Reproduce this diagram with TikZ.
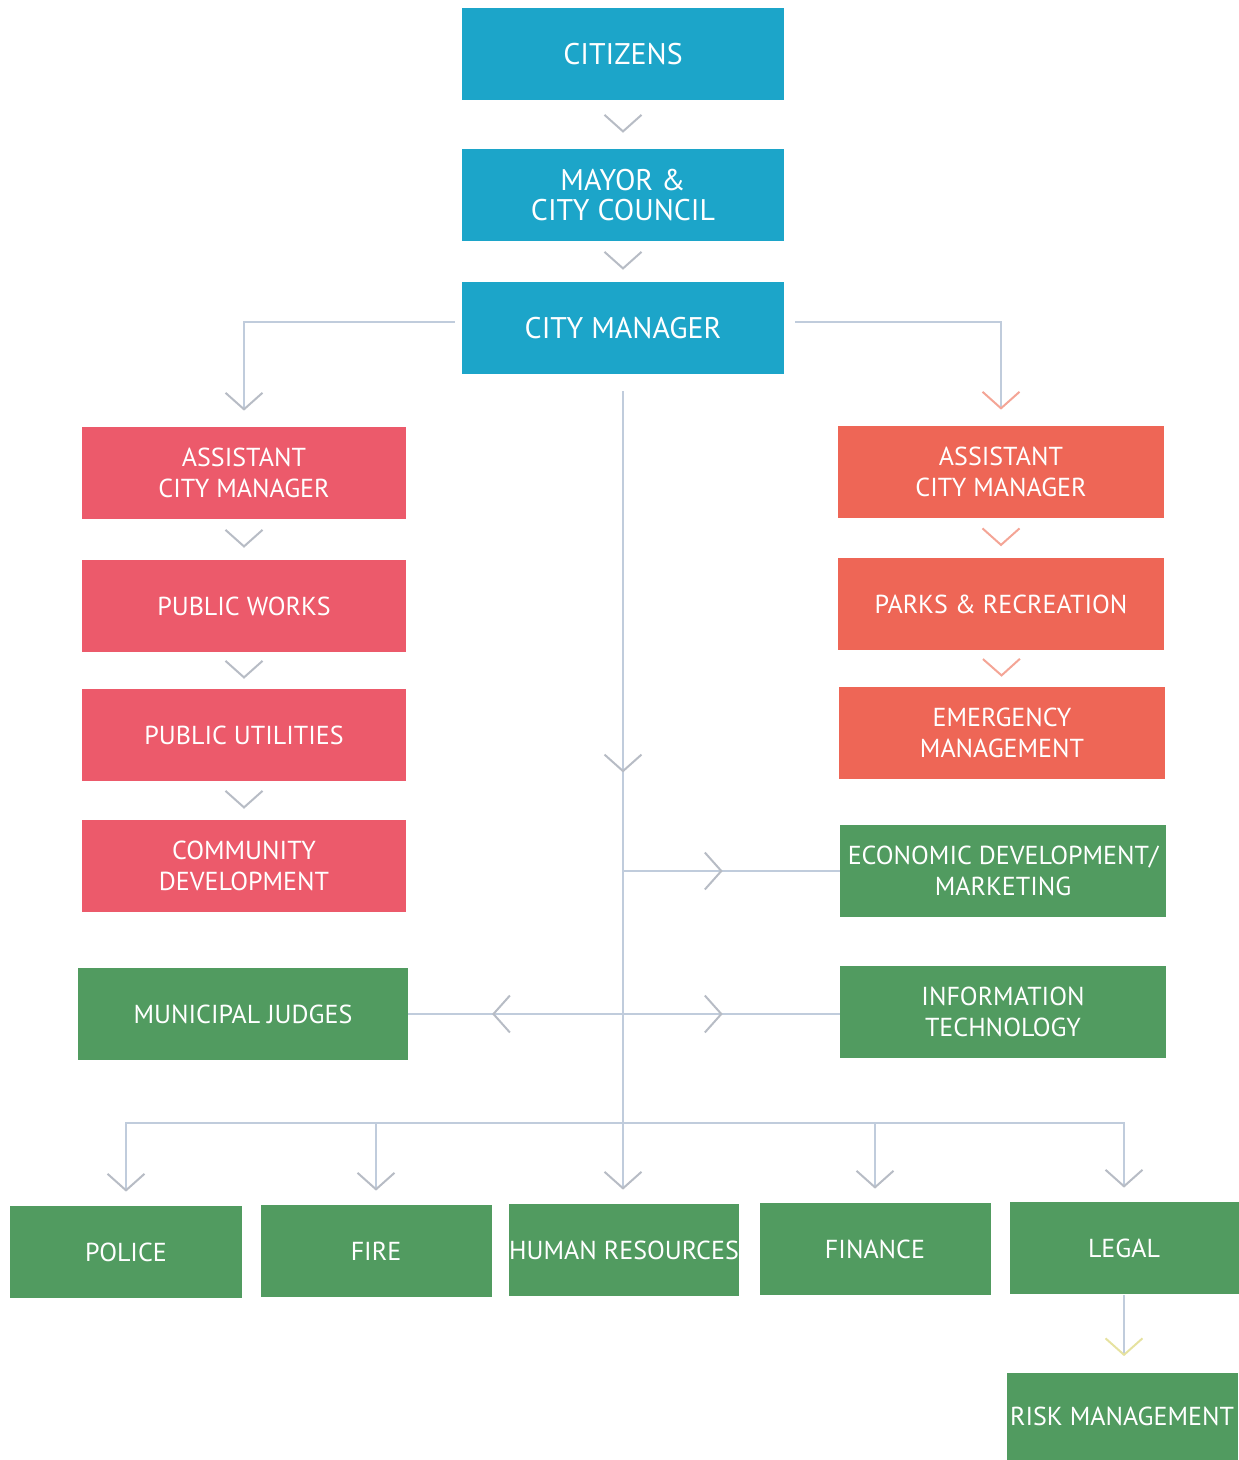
\documentclass[tikz,border=0pt]{standalone}
\usepackage{fontspec}
\setmainfont{PT Sans}
\usetikzlibrary{arrows.meta,decorations.markings}
\definecolor{cityblue}{HTML}{1CA5C9}
\definecolor{deptred}{HTML}{EC5A6B}
\definecolor{deptcoral}{HTML}{EE6656}
\definecolor{deptgreen}{HTML}{519B60}
\definecolor{linkgray}{HTML}{C0CCDC}
\definecolor{chevgray}{HTML}{B7BCC5}
\definecolor{chevpink}{HTML}{F4A596}
\definecolor{chevyellow}{HTML}{E6E2A0}
\begin{document}
\begin{tikzpicture}[x=0.2mm, y=-0.2mm,
  gchev/.tip={Straight Barb[length=3.3mm, width=7.4mm, line width=0.4mm 0, color=chevgray]},
  pchev/.tip={Straight Barb[length=3.3mm, width=7.4mm, line width=0.4mm 0, color=chevpink]},
  ychev/.tip={Straight Barb[length=3.3mm, width=7.4mm, line width=0.4mm 0, color=chevyellow]},
  box/.style={rectangle, inner sep=0pt, text=white, align=center, minimum height=18.4mm,
    font=\fontsize{14.8}{17.5}\selectfont},
  citybox/.style={box, fill=cityblue, minimum width=64.4mm, font=\fontsize{17}{17.5}\selectfont},
  redbox/.style={box, fill=deptred, minimum width=64.8mm},
  coralbox/.style={box, fill=deptcoral, minimum width=65.2mm},
  greenbox/.style={box, fill=deptgreen, minimum width=65.2mm},
  unitbox/.style={box, fill=deptgreen, minimum width=46.2mm},
  link/.style={draw=linkgray, line width=0.22mm},
  gapchev/.style={postaction={decorate}, decoration={markings,
    mark=at position 0.5 with {\arrow[xshift=1.65mm]{#1}}}},
  midchev/.style={postaction={decorate}, decoration={markings,
    mark=at position #1 with {\arrow{gchev}}}}]
\useasboundingbox (0,0) rectangle (1238,1460);
% top of the chart
\node[citybox] (cit) at (623,54) {CITIZENS};
\node[citybox] (mayor) at (623,195) {MAYOR \&\\CITY COUNCIL};
\node[citybox] (cm) at (623,328) {CITY MANAGER};
% left branch
\node[redbox] (acml) at (244,473) {ASSISTANT\\CITY MANAGER};
\node[redbox] (pw) at (244,606) {PUBLIC WORKS};
\node[redbox] (pu) at (244,735) {PUBLIC UTILITIES};
\node[redbox] (cd) at (244,866) {COMMUNITY\\DEVELOPMENT};
\node[greenbox, minimum width=66mm] (judges) at (243,1014) {MUNICIPAL JUDGES};
% right branch
\node[coralbox] (acmr) at (1001,472) {ASSISTANT\\CITY MANAGER};
\node[coralbox] (parks) at (1001,604) {PARKS \& RECREATION};
\node[coralbox] (em) at (1002,733) {EMERGENCY\\MANAGEMENT};
\node[greenbox] (econ) at (1003,871) {ECONOMIC DEVELOPMENT/\\MARKETING};
\node[greenbox] (it) at (1003,1012) {INFORMATION\\TECHNOLOGY};
% bottom row
\node[unitbox] (police) at (126,1252) {POLICE};
\node[unitbox] (fire) at (376,1251) {FIRE};
\node[unitbox, minimum width=45.8mm] (hr) at (624,1250) {HUMAN RESOURCES};
\node[unitbox] (fin) at (875,1249) {FINANCE};
\node[unitbox, minimum width=45.8mm] (legal) at (1124,1248) {LEGAL};
\node[unitbox, minimum height=17.4mm] (risk) at (1122,1416) {RISK MANAGEMENT};
\coordinate (bus) at (623,1123);

% chevrons between stacked boxes
\path[gapchev=gchev] (cit) -- (mayor);
\path[gapchev=gchev] (mayor) -- (cm);
\path[gapchev=gchev] (acml) -- (pw);
\path[gapchev=gchev] (pw) -- (pu);
\path[gapchev=gchev] (pu) -- (cd);
\path[gapchev=pchev] (acmr) -- (parks);
\path[gapchev=pchev] (parks) -- (em);

% lines from the city manager
\draw[link, -gchev, shorten <=1.4mm, shorten >=3.2mm] ([yshift=1.2mm]cm.west) -| (acml.north);
\draw[link, -pchev, shorten <=2.2mm, shorten >=3.2mm] ([yshift=1.2mm]cm.east) -| (acmr.north);
\draw[link, -gchev, midchev=0.48, shorten <=3.4mm, shorten >=2.8mm] (cm.south) -- (cm.south |- hr.north);
\draw[link, midchev=0.46] (cm.south |- econ.west) -- (econ.west);
\draw[link, midchev=0.61] (cm.south |- judges.east) -- (judges.east);
\draw[link, midchev=0.46] (cm.south |- judges.east) -- (it.west |- judges.east);
\foreach \n in {police,fire,fin,legal}
  \draw[link, -gchev, shorten >=2.8mm] (bus) -| (\n.north);
\draw[link, -ychev, shorten <=0.2mm, shorten >=3.2mm] (legal) -- (legal |- risk.north);
\end{tikzpicture}
\end{document}
